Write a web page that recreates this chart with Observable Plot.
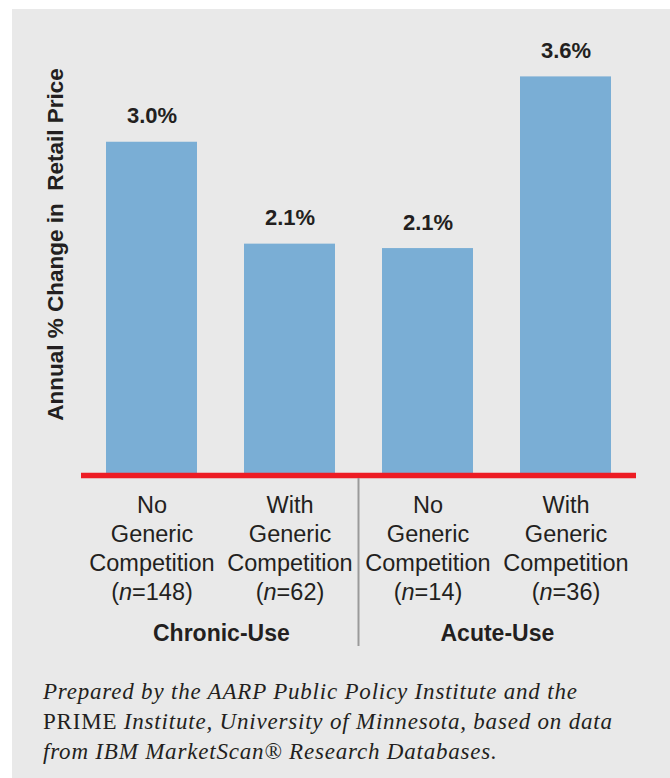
<!DOCTYPE html>
<html>
<head>
<meta charset="utf-8">
<script src="https://cdn.jsdelivr.net/npm/d3@7"></script>
<script src="https://cdn.jsdelivr.net/npm/@observablehq/plot@0.6"></script>
<style>
  html, body { margin: 0; padding: 0; background: #ffffff; }
  #panel { position: absolute; left: 12px; top: 9px; width: 658px; height: 769px; background: #e9e9e9; }
  #chart { position: absolute; left: 0; top: 0; }
  #caption {
    position: absolute; left: 31px; top: 668px; width: 627px; white-space: nowrap;
    font-family: "Liberation Serif", serif; font-style: italic; font-size: 23px; line-height: 30px;
    letter-spacing: 0.8px; color: #231f20;
  }
  #caption .roman { font-style: normal; }
</style>
</head>
<body>
<div id="panel">
  <div id="chart"></div>
  <div id="caption">Prepared by the AARP Public Policy Institute and the<br><span class="roman">PRIME</span> Institute, University of Minnesota, based on data<br>from IBM MarketScan® Research Databases.</div>
</div>
<script>
// ---- data ----
const groups = ["Chronic-Use", "Chronic-Use", "Acute-Use", "Acute-Use"];
const competition = ["No", "With", "No", "With"];
const counts = [148, 62, 14, 36];
const values = [3.0, 2.08, 2.04, 3.59];
const valueLabels = ["3.0%", "2.1%", "2.1%", "3.6%"];
const groupNames = ["Chronic-Use", "Acute-Use"];
const yLabel = "Annual % Change in\u00a0 Retail Price";

const rows = values.map((v, i) => ({
  key: competition[i] + " " + groups[i],
  group: groups[i],
  comp: competition[i],
  n: counts[i],
  value: v,
  label: valueLabels[i]
}));
const keys = rows.map(d => d.key);
const tickText = new Map(rows.map(d => [d.key, `${d.comp}\nGeneric\nCompetition\n(n=${d.n})`]));

const W = 658, H = 660;
const mL = 69, mR = 34, mT = 22, mB = 195;
const xOpts = {type: "band", domain: keys, range: [mL, W - mR], paddingInner: 0.34, paddingOuter: 0.17};
const xScale = Plot.scale({x: xOpts});
const step = xScale.step;
const groupRows = groupNames.map(g => ({group: g, first: rows.find(d => d.group === g).key}));

const plot = Plot.plot({
  width: W,
  height: H,
  marginLeft: mL,
  marginRight: mR,
  marginTop: mT,
  marginBottom: mB,
  style: {background: "transparent", fontFamily: "'Liberation Sans', Arial, sans-serif", color: "#231f20", overflow: "visible"},
  x: {domain: keys, paddingInner: 0.34, paddingOuter: 0.17, axis: null},
  y: {domain: [0, 4], axis: null},
  marks: [
    Plot.barY(rows, {x: "key", y: "value", fill: "#7aaed5"}),
    Plot.ruleY([0], {stroke: "#ed1c24", strokeWidth: 5.5, dy: 1}),
    Plot.text(rows, {x: "key", y: "value", text: "label", dy: -26, fontSize: 22, fontWeight: "bold", fill: "#231f20"}),
    Plot.axisX({tickSize: 0, tickPadding: 17.5, fontSize: 23.5, lineHeight: 1.24, tickFormat: k => tickText.get(k), fill: "#231f20"}),
    Plot.text(groupRows, {x: "first", text: "group", frameAnchor: "bottom", dx: step / 2, dy: 166.5, fontSize: 23, fontWeight: "bold", fill: "#231f20"}),
    Plot.text([yLabel], {frameAnchor: "left", textAnchor: "middle", lineAnchor: "middle", rotate: -90, dx: -26, dy: -8.5, fontSize: 22.5, fontWeight: "bold", fill: "#231f20"})
  ]
});
document.getElementById("chart").appendChild(plot);

// italic "n" in the sample-size lines
plot.querySelectorAll("tspan, text").forEach(el => {
  if (el.childElementCount === 0) {
    const m = /^\(n=(\d+)\)$/.exec(el.textContent);
    if (m) {
      el.textContent = "";
      el.appendChild(document.createTextNode("("));
      const it = document.createElementNS("http://www.w3.org/2000/svg", "tspan");
      it.setAttribute("font-style", "italic");
      it.textContent = "n";
      el.appendChild(it);
      el.appendChild(document.createTextNode("=" + m[1] + ")"));
    }
  }
});

// group separator between the two use types, from the library's x scale
const sx = plot.scale("x");
const sy = plot.scale("y");
const sepKey = groupRows[1].first;
const sepX = sx.apply(sepKey) - (sx.step - sx.bandwidth) / 2;
d3.select(plot).append("line")
  .attr("x1", sepX).attr("x2", sepX)
  .attr("y1", sy.apply(0) + 4).attr("y2", 637)
  .attr("stroke", "#9a9a9a").attr("stroke-width", 2);
</script>
</body>
</html>
